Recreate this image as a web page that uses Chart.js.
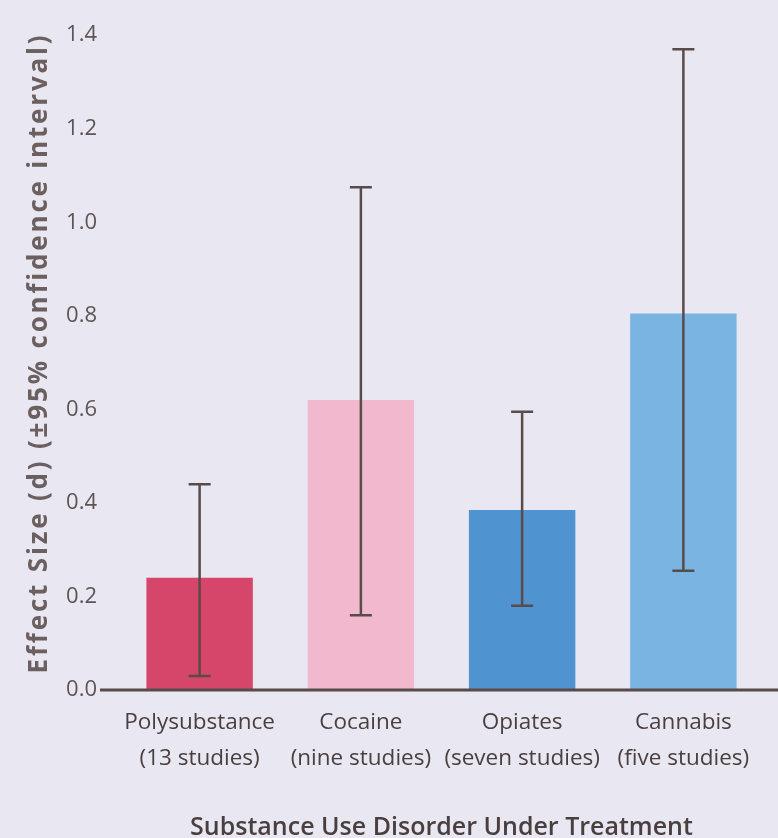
<!DOCTYPE html>
<html>
<head>
<meta charset="utf-8">
<script src="https://cdn.jsdelivr.net/npm/chart.js@4"></script>
<style>
  html, body { margin: 0; padding: 0; background: #e9e7f1; }
  #wrap { width: 778px; height: 838px; position: relative; }
</style>
</head>
<body>
<div id="wrap"><canvas id="effectChart"></canvas></div>
<script>
// data
const categories = [
    ["Polysubstance", "(13 studies)"],
    ["Cocaine", "(nine studies)"],
    ["Opiates", "(seven studies)"],
    ["Cannabis", "(five studies)"]
];
const effectSize = [0.24, 0.62, 0.385, 0.805];
const ciLow = [0.03, 0.16, 0.18, 0.255];
const ciHigh = [0.44, 1.075, 0.595, 1.37];
const yTicks = [0, 0.2, 0.4, 0.6, 0.8, 1.0, 1.2, 1.4];
const barColors = ['#d6466b', '#f1b8ce', '#4f94d1', '#79b4e2'];
const yTitle = 'Effect Size (d) (\u00b195% confidence interval)';

const inkColor = '#5a4b4b';

// error bars, baseline and the spaced-out y title
const errorBars = {
    id: 'errorBars',
    afterDatasetsDraw(chart) {
        const ctx = chart.ctx;
        const x = chart.scales.x, y = chart.scales.y;
        ctx.save();
        ctx.strokeStyle = inkColor;
        ctx.lineWidth = 2.5;
        for (let i = 0; i < effectSize.length; i++) {
            const cx = x.getPixelForValue(i);
            const top = y.getPixelForValue(ciHigh[i]);
            const bot = y.getPixelForValue(ciLow[i]);
            ctx.beginPath();
            ctx.moveTo(cx, top); ctx.lineTo(cx, bot);
            ctx.moveTo(cx - 11, top); ctx.lineTo(cx + 11, top);
            ctx.moveTo(cx - 11, bot); ctx.lineTo(cx + 11, bot);
            ctx.stroke();
        }
        const y0 = y.getPixelForValue(0);
        ctx.lineWidth = 3;
        ctx.beginPath();
        ctx.moveTo(100, y0);
        ctx.lineTo(chart.width, y0);
        ctx.stroke();

        // title stretched from ~y=672 up to ~y=32 like the print
        ctx.font = "bold 26px 'Open Sans', sans-serif";
        const w = ctx.measureText(yTitle).width;
        const span = 638;
        ctx.letterSpacing = Math.max(0, (span - w) / (yTitle.length - 1)) + 'px';
        ctx.fillStyle = '#6b5f5f';
        ctx.translate(40, 353);
        ctx.rotate(-Math.PI / 2);
        ctx.textAlign = 'center';
        ctx.textBaseline = 'middle';
        ctx.fillText(yTitle, 0, 0);
        ctx.restore();
    }
};

const ctx = document.getElementById('effectChart').getContext('2d');
const myChart = new Chart(ctx, {
    type: 'bar',
    data: {
        labels: categories,
        datasets: [{
            data: effectSize,
            backgroundColor: barColors,
            borderWidth: 0,
            categoryPercentage: 1,
            barPercentage: 0.66
        }]
    },
    options: {
        responsive: true,
        maintainAspectRatio: false,
        animation: false,
        layout: { padding: { top: 35, right: 14, left: 0, bottom: 0 } },
        plugins: {
            legend: { display: false },
            tooltip: { enabled: false }
        },
        scales: {
            x: {
                grid: { display: false, drawTicks: false },
                border: { display: false },
                afterFit(scale) { scale.height = 148; },
                ticks: {
                    color: '#4a3f3f',
                    padding: 15,
                    maxRotation: 0,
                    autoSkip: false,
                    font: { family: "'Open Sans', sans-serif", size: 22.5, lineHeight: 1.6 }
                },
                title: {
                    display: true,
                    text: 'Substance Use Disorder Under Treatment',
                    color: '#4a3f3f',
                    padding: 0,
                    font: { family: "'Open Sans', sans-serif", size: 25, weight: '600', lineHeight: 0.85 }
                }
            },
            y: {
                min: 0,
                max: 1.4,
                afterFit(scale) { scale.width = 119; },
                afterBuildTicks(scale) { scale.ticks = yTicks.map(v => ({ value: v })); },
                grid: { display: false, drawTicks: false },
                border: { display: false },
                ticks: {
                    color: '#5e5454',
                    padding: 22,
                    font: { family: "'Open Sans', sans-serif", size: 22 },
                    callback: v => v.toFixed(1)
                }
            }
        }
    },
    plugins: [errorBars]
});
</script>
</body>
</html>
